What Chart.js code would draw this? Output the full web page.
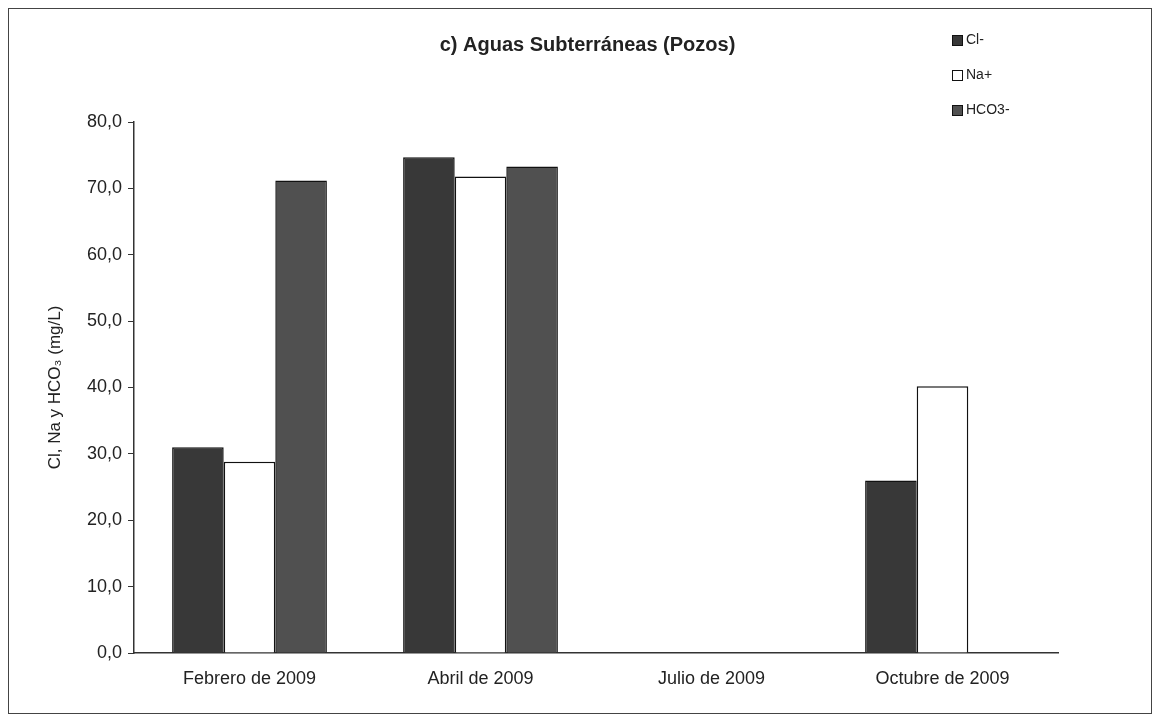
<!DOCTYPE html>
<html>
<head>
<meta charset="utf-8">
<script src="https://cdn.jsdelivr.net/npm/chart.js@4/dist/chart.umd.min.js"></script>
<style>
    body { margin: 0; background: #fff; }
    #wrap { position: relative; width: 1161px; height: 718px; }
    #frame { position: absolute; left: 8px; top: 8px; width: 1142px; height: 704px; border: 1px solid #444; pointer-events: none; }
</style>
</head>
<body>
<div id="wrap">
    <canvas id="pozosChart" width="1161" height="718"></canvas>
    <div id="frame"></div>
</div>
<script>
const months = ['Febrero de 2009', 'Abril de 2009', 'Julio de 2009', 'Octubre de 2009'];
const cloruro = [31.0, 74.7, null, 26.0];
const sodio = [28.8, 71.8, null, 40.2];
const bicarbonato = [71.2, 73.3, null, null];
const seriesNames = ['Cl-', 'Na+', 'HCO3-'];

const fontFamily = "'Liberation Sans', Arial, sans-serif";

// legend sits in the top right corner like in the original sheet, so draw it by hand
const sideLegend = {
    id: 'sideLegend',
    afterDraw(chart) {
        const ctx = chart.ctx;
        ctx.save();
        ctx.font = '14px ' + fontFamily;
        ctx.textBaseline = 'middle';
        chart.data.datasets.forEach((ds, i) => {
            let y = 40 + i * 35;
            ctx.fillStyle = ds.backgroundColor;
            ctx.fillRect(952, y - 5, 10, 10);
            ctx.strokeStyle = '#111';
            ctx.lineWidth = 1;
            ctx.strokeRect(952.5, y - 4.5, 10, 10);
            ctx.fillStyle = '#222';
            ctx.fillText(ds.label, 966, y);
        });
        ctx.restore();
    }
};

const ctx = document.getElementById('pozosChart');
new Chart(ctx, {
    type: 'bar',
    data: {
        labels: months,
        datasets: [{
            label: seriesNames[0],
            data: cloruro,
            backgroundColor: '#383838',
            borderColor: '#111',
            borderWidth: 1.5
        }, {
            label: seriesNames[1],
            data: sodio,
            backgroundColor: '#ffffff',
            borderColor: '#111',
            borderWidth: 1.5
        }, {
            label: seriesNames[2],
            data: bicarbonato,
            backgroundColor: '#505050',
            borderColor: '#111',
            borderWidth: 1.5
        }]
    },
    plugins: [sideLegend],
    options: {
        responsive: false,
        animation: false,
        categoryPercentage: 0.67,
        barPercentage: 1.0,
        layout: {
            padding: { left: 14, right: 0, top: 0, bottom: 0 }
        },
        plugins: {
            legend: { display: false },
            tooltip: { enabled: false },
            title: {
                display: true,
                text: 'c) Aguas Subterráneas (Pozos)',
                color: '#222',
                font: { family: fontFamily, size: 20, weight: 'bold' },
                padding: { top: 33, bottom: 65 }
            }
        },
        scales: {
            x: {
                grid: { display: false },
                border: { display: true, color: '#333', width: 1.5 },
                ticks: {
                    color: '#222',
                    padding: 7,
                    font: { family: fontFamily, size: 18 }
                },
                afterFit: (scale) => { scale.height = 65; }
            },
            y: {
                min: 0,
                max: 80,
                grid: { drawOnChartArea: false, drawTicks: true, tickLength: 6, color: '#333' },
                border: { display: true, color: '#333', width: 1.5 },
                ticks: {
                    stepSize: 10,
                    color: '#222',
                    padding: 6,
                    font: { family: fontFamily, size: 18 },
                    callback: (value) => value.toFixed(1).replace('.', ',')
                },
                title: {
                    display: true,
                    text: 'Cl, Na y HCO₃ (mg/L)',
                    color: '#222',
                    font: { family: fontFamily, size: 17 },
                    padding: { top: 31, bottom: 0 }
                },
                afterFit: (scale) => { scale.width = 120; }
            },
            // empty right axis, only there to leave room for the legend
            spacer: {
                type: 'linear',
                position: 'right',
                grid: { display: false },
                border: { display: false },
                ticks: { display: false },
                afterFit: (scale) => { scale.width = 103; }
            }
        }
    }
});
</script>
</body>
</html>
